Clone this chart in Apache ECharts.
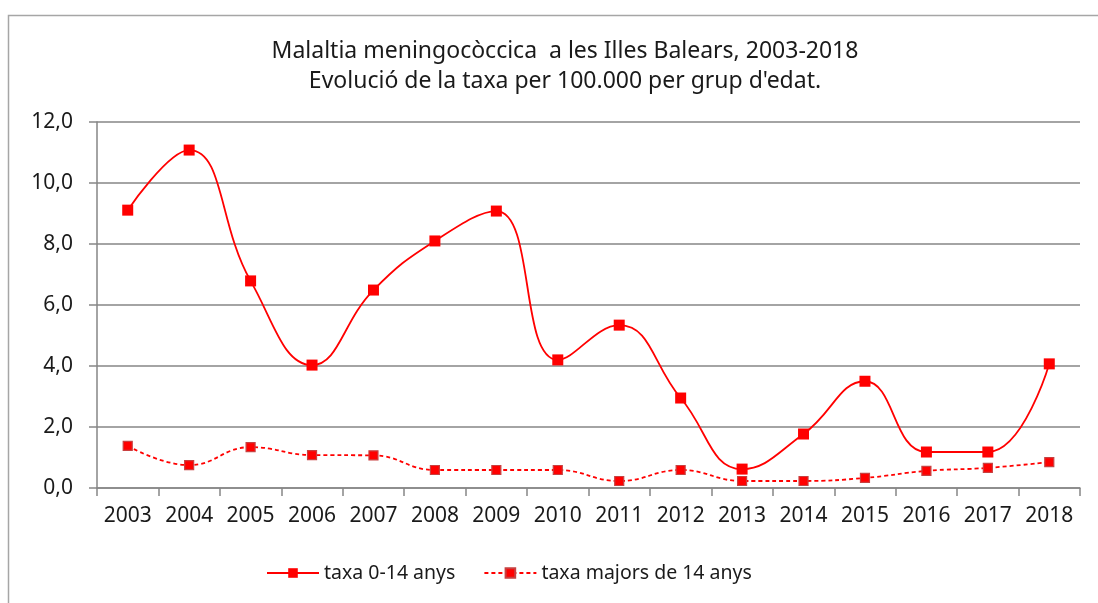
<!DOCTYPE html>
<html>
<head>
<meta charset="utf-8">
<script src="https://cdn.jsdelivr.net/npm/echarts@6/dist/echarts.min.js"></script>
<style>
  html, body { margin: 0; padding: 0; background: #fff; }
  #main { width: 1098px; height: 603px; }
</style>
</head>
<body>
<div id="main"></div>
<script>
var years = ['2003','2004','2005','2006','2007','2008','2009','2010','2011','2012','2013','2014','2015','2016','2017','2018'];
var taxaNens = [9.11, 11.08, 6.79, 4.03, 6.49, 8.10, 9.08, 4.20, 5.34, 2.95, 0.62, 1.77, 3.50, 1.18, 1.18, 4.07];
var taxaMajors = [1.38, 0.75, 1.34, 1.08, 1.07, 0.59, 0.59, 0.59, 0.23, 0.59, 0.23, 0.23, 0.33, 0.56, 0.66, 0.85];
var yTicks = [0, 2, 4, 6, 8, 10, 12];

var myChart = echarts.init(document.getElementById('main'));

var fontFam = '"Noto Sans", "Open Sans", sans-serif';

var option = {
    backgroundColor: '#fff',
    textStyle: { fontFamily: fontFam },
    graphic: [{
        type: 'rect',
        shape: { x: 8.5, y: 15.5, width: 1100, height: 600 },
        style: { fill: 'none', stroke: '#a6a6a6', lineWidth: 1.5 },
        silent: true
    }],
    title: {
        text: 'Malaltia meningocòccica  a les Illes Balears, 2003-2018\nEvolució de la taxa per 100.000 per grup d\'edat.',
        left: 560,
        textAlign: 'center',
        top: 31,
        textStyle: {
            fontFamily: fontFam,
            fontSize: 23,
            fontWeight: 'normal',
            color: '#1a1a1a',
            lineHeight: 30
        }
    },
    legend: {
        top: 558,
        left: 261,
        itemWidth: 52,
        itemHeight: 12,
        itemGap: 28,
        textStyle: { fontFamily: fontFam, fontSize: 19.5, color: '#1a1a1a' },
        data: ['taxa 0-14 anys', 'taxa majors de 14 anys']
    },
    grid: {
        left: 97,
        right: 18,
        top: 122,
        bottom: 115,
        containLabel: false
    },
    xAxis: {
        type: 'category',
        data: years,
        boundaryGap: true,
        axisLine: { lineStyle: { color: '#868686', width: 1.5 } },
        axisTick: { show: true, inside: false, length: 8, alignWithLabel: false, lineStyle: { color: '#868686', width: 1.5 } },
        axisLabel: { color: '#1a1a1a', fontSize: 21, margin: 18, fontFamily: fontFam, interval: 0 }
    },
    yAxis: {
        type: 'value',
        min: yTicks[0],
        max: yTicks[yTicks.length - 1],
        interval: 2,
        axisLine: { show: true, lineStyle: { color: '#868686', width: 1.5 } },
        axisTick: { show: true, length: 8, lineStyle: { color: '#868686', width: 1.5 } },
        axisLabel: {
            color: '#1a1a1a',
            fontSize: 21,
            margin: 24,
            fontFamily: fontFam,
            formatter: function (v) { return v.toFixed(1).replace('.', ','); }
        },
        splitLine: { lineStyle: { color: '#868686', width: 1.5 } }
    },
    series: [{
        name: 'taxa 0-14 anys',
        type: 'line',
        data: taxaNens,
        smooth: 0.45,
        symbol: 'rect',
        symbolSize: 11,
        color: '#ff0000',
        lineStyle: { color: '#ff0000', width: 1.8 },
        itemStyle: { color: '#ff0000' }
    }, {
        name: 'taxa majors de 14 anys',
        type: 'line',
        data: taxaMajors,
        smooth: 0.45,
        symbol: 'rect',
        symbolSize: 9,
        color: '#ff0000',
        lineStyle: { color: '#ff0000', width: 1.8, type: [4, 3] },
        itemStyle: { color: '#ff0000', borderColor: '#c84040', borderWidth: 1.2 }
    }]
};

myChart.setOption(option);
</script>
</body>
</html>
